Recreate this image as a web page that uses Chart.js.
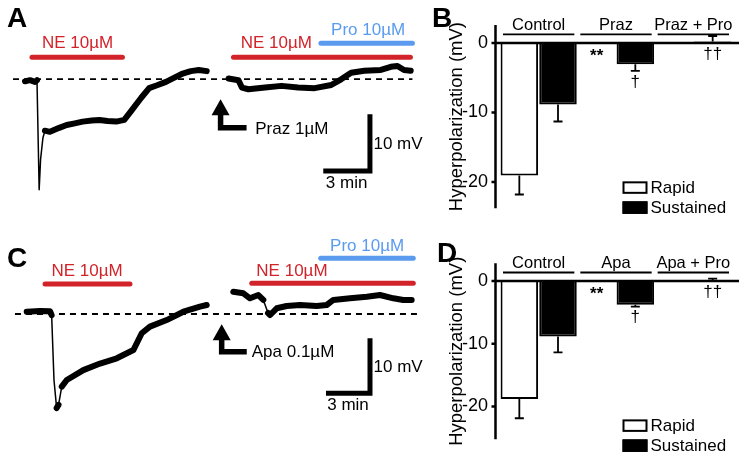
<!DOCTYPE html>
<html>
<head>
<meta charset="utf-8">
<script src="https://cdn.jsdelivr.net/npm/chart.js@4/dist/chart.umd.min.js"></script>
<style>
  html, body { margin: 0; padding: 0; background: #fff; }
  #fig { position: relative; width: 747px; height: 462px; overflow: hidden; }
  canvas { position: absolute; }
</style>
</head>
<body>
<div id="fig">
  <canvas id="chartA" width="430" height="230" style="left:0;top:0"></canvas>
  <canvas id="chartC" width="430" height="232" style="left:0;top:230px"></canvas>
  <canvas id="chartB" width="317" height="231" style="left:430px;top:0"></canvas>
  <canvas id="chartD" width="317" height="231" style="left:430px;top:231px"></canvas>
</div>
<script>
// traces: time in min, membrane potential change in mV
const aTime1 = [0, 0.32, 0.64, 0.77, 0.91, 1.0, 1.15, 1.28, 1.6, 2.2, 2.68, 3.2, 3.7, 4.3, 4.79, 5.3, 5.87, 6.38, 6.89, 7.47, 7.98, 8.49, 9.06, 9.57, 10.08, 10.66, 11.17, 11.68];
const aVolt1 = [-0.4, -0.2, -0.5, -0.2, -19.5, -14.2, -10.4, -9.1, -9.3, -8.6, -8.1, -7.8, -7.5, -7.3, -7.2, -7.4, -7.5, -7.2, -5.4, -3.3, -1.6, -1.1, -0.5, 0.2, 0.9, 1.4, 1.6, 1.4];
const aTime2 = [13.08, 13.72, 13.94, 14.36, 15.43, 16.49, 17.55, 18.62, 19.68, 20.32, 20.96, 21.81, 22.87, 23.51, 23.94, 24.36, 24.79];
const aVolt2 = [0.1, -0.2, -1.5, -1.8, -1.5, -1.2, -1.5, -1.6, -1.05, -0.05, 1.1, 1.45, 1.6, 2.15, 2.3, 1.6, 1.45];

const cTime1 = [0, 0.91, 1.59, 1.7, 1.86, 2.04, 2.17, 2.39, 2.73, 3.86, 5.0, 6.14, 7.27, 7.84, 8.4, 9.54, 10.68, 11.81, 12.27];
const cVolt1 = [0.42, 0.55, 0.5, -0.2, -12, -17.1, -16.5, -13.2, -12, -10.2, -9.0, -8.05, -6.55, -3.5, -2.3, -1.1, 0.42, 1.33, 1.64];
const cTime2 = [14.08, 14.77, 15.22, 15.79, 16.13, 16.45, 16.59, 17.04, 17.72, 18.63, 19.77, 20.45, 20.9, 22.04, 23.18, 24.08, 24.99, 25.67, 26.24];
const cVolt2 = [4.05, 3.76, 2.85, 3.45, 2.55, 0.18, -0.18, 1.04, 1.45, 1.64, 1.45, 1.64, 2.55, 2.85, 3.15, 3.45, 2.85, 2.55, 2.55];

// drug application windows (min)
const aNE = [[0.45, 6.26], [13.4, 24.77]];
const aPro = [19.02, 24.9];
const cNE = [[1.25, 7.04], [15.34, 26.35]];
const cPro = [20.04, 26.35];

// bar charts
const bGroups = ['Control', 'Praz', 'Praz + Pro'];
const bRapid = [-19.05, 0, 0];
const bRapidErr = [2.75, 0, 0];
const bSust = [-8.85, -3.06, 0.2];
const bSustErr = [2.45, 0.95, 0.8];

const dGroups = ['Control', 'Apa', 'Apa + Pro'];
const dRapid = [-18.83, 0, 0];
const dRapidErr = [3.05, 0, 0];
const dSust = [-8.85, -3.77, 0.1];
const dSustErr = [2.54, 0.32, 0.27];

const yTicks = [0, -10, -20];

const RED = '#d2232a';
const BLUE = '#5a9bf0';
const FONT = "'Liberation Sans', Arial, Helvetica, sans-serif";
Chart.defaults.font.family = FONT;
Chart.defaults.color = '#000';

const pts = (ts, vs) => ts.map((t, i) => ({ x: t, y: vs[i] }));

function makeTraceDecor(p) {
  return {
    id: 'traceDecor',
    beforeDatasetsDraw(chart) {
      const { ctx, scales: { x, y } } = chart;
      ctx.save();
      ctx.strokeStyle = '#000';
      ctx.lineWidth = 1.8;
      ctx.setLineDash([6, 5]);
      ctx.beginPath();
      ctx.moveTo(x.getPixelForValue(p.baseline[0]), y.getPixelForValue(0));
      ctx.lineTo(x.getPixelForValue(p.baseline[1]), y.getPixelForValue(0));
      ctx.stroke();
      ctx.restore();
    },
    afterDatasetsDraw(chart) {
      const { ctx, scales: { x, y } } = chart;
      ctx.save();
      // drug bars
      p.drugs.forEach(d => {
        ctx.strokeStyle = d.color;
        ctx.lineWidth = 5;
        ctx.lineCap = 'round';
        ctx.beginPath();
        ctx.moveTo(x.getPixelForValue(d.span[0]), y.getPixelForValue(d.v));
        ctx.lineTo(x.getPixelForValue(d.span[1]), y.getPixelForValue(d.v));
        ctx.stroke();
        ctx.fillStyle = d.color;
        ctx.font = '17px ' + FONT;
        ctx.textAlign = 'center';
        ctx.textBaseline = 'middle';
        ctx.fillText(d.label, x.getPixelForValue(d.labelT), y.getPixelForValue(d.labelV));
      });

      // arrow (drug pre-treatment)
      const a = p.arrow;
      const ax = x.getPixelForValue(a.t), tipY = y.getPixelForValue(a.tipV);
      const cy = y.getPixelForValue(a.cornerV), ex = x.getPixelForValue(a.endT);
      ctx.strokeStyle = '#000';
      ctx.fillStyle = '#000';
      ctx.lineCap = 'butt';
      ctx.lineJoin = 'miter';
      ctx.lineWidth = 5.5;
      ctx.beginPath();
      ctx.moveTo(ax, tipY + 12);
      ctx.lineTo(ax, cy);
      ctx.lineTo(ex, cy);
      ctx.stroke();
      ctx.beginPath();
      ctx.moveTo(ax, tipY);
      ctx.lineTo(ax - 9, tipY + 16);
      ctx.lineTo(ax + 9, tipY + 16);
      ctx.closePath();
      ctx.fill();
      ctx.font = '17px ' + FONT;
      ctx.textAlign = 'left';
      ctx.textBaseline = 'middle';
      ctx.fillText(a.label, x.getPixelForValue(a.labelT), cy + 1);

      // scale bar: 10 mV x 3 min
      const sx = x.getPixelForValue(p.scaleBar.t), sy = y.getPixelForValue(p.scaleBar.v);
      const topY = y.getPixelForValue(p.scaleBar.v + 10), leftX = x.getPixelForValue(p.scaleBar.t - 3);
      ctx.lineWidth = 5;
      ctx.beginPath();
      ctx.moveTo(sx, topY);
      ctx.lineTo(sx, sy);
      ctx.lineTo(leftX, sy);
      ctx.stroke();
      ctx.fillText('10 mV', sx + 3.5, (topY + sy) / 2 + 2);
      ctx.textAlign = 'center';
      ctx.fillText('3 min', (sx + leftX) / 2, sy + 12);

      // panel letter
      ctx.font = 'bold 28px ' + FONT;
      ctx.textAlign = 'left';
      ctx.textBaseline = 'alphabetic';
      ctx.fillText(p.letter, p.letterPos[0], p.letterPos[1]);
      ctx.restore();
    }
  };
}

function makeTraceChart(id, p) {
  return new Chart(document.getElementById(id), {
    type: 'line',
    data: {
      datasets: p.traces.map(tr => ({
        data: pts(tr[0], tr[1]),
        borderColor: '#000',
        borderWidth: 6,
        borderJoinStyle: 'round',
        borderCapStyle: 'round',
        pointRadius: 0,
        tension: 0,
        segment: {
          // the fast transients are a thin line, the noisy plateau a thick band
          borderWidth: c => Math.abs(c.p1.y - c.p0.y) > 2.5 * Math.abs(c.p1.x - c.p0.x) ? 1.5 : 6
        }
      }))
    },
    options: {
      responsive: false,
      animation: false,
      layout: { padding: 0 },
      plugins: { legend: { display: false }, tooltip: { enabled: false } },
      scales: {
        x: { type: 'linear', display: false, min: p.xRange[0], max: p.xRange[1] },
        y: { type: 'linear', display: false, min: p.yRange[0], max: p.yRange[1] }
      }
    },
    plugins: [makeTraceDecor(p)]
  });
}

makeTraceChart('chartA', {
  letter: 'A', letterPos: [7, 27],
  xRange: [-1.607, 26.03], yRange: [-26.6, 13.93],
  baseline: [-0.77, 24.9],
  traces: [[aTime1, aVolt1], [aTime2, aVolt2]],
  drugs: [
    { span: aNE[0], v: 3.86, label: 'NE 10µM', labelT: 3.38, labelV: 6.32, color: RED },
    { span: aNE[1], v: 3.86, label: 'NE 10µM', labelT: 16.15, labelV: 6.32, color: RED },
    { span: aPro, v: 6.32, label: 'Pro 10µM', labelT: 22.05, labelV: 8.6, color: BLUE }
  ],
  arrow: { t: 12.57, tipV: -3.56, cornerV: -8.6, endT: 14.24, label: 'Praz 1µM', labelT: 14.8 },
  scaleBar: { t: 22.17, v: -16.2 }
});

makeTraceChart('chartC', {
  letter: 'C', letterPos: [7, 37],
  xRange: [-1.82, 27.49], yRange: [-26.9, 15.27],
  baseline: [-0.8, 26.6],
  traces: [[cTime1, cVolt1], [cTime2, cVolt2]],
  drugs: [
    { span: cNE[0], v: 5.45, label: 'NE 10µM', labelT: 4.11, labelV: 7.69, color: RED },
    { span: cNE[1], v: 5.58, label: 'NE 10µM', labelT: 18.08, labelV: 7.69, color: RED },
    { span: cPro, v: 10.13, label: 'Pro 10µM', labelT: 23.2, labelV: 12.36, color: BLUE }
  ],
  arrow: { t: 13.29, tipV: -1.87, cornerV: -6.85, endT: 15.0, label: 'Apa 0.1µM', labelT: 15.34 },
  scaleBar: { t: 23.4, v: -14.4 }
});

function makeBarDecor(p) {
  return {
    id: 'barDecor',
    afterDatasetsDraw(chart) {
      const { ctx, chartArea, scales: { x, y } } = chart;
      const zeroY = y.getPixelForValue(0);
      const axisX = chartArea.left - 4.5;
      ctx.save();
      ctx.strokeStyle = '#000';
      ctx.fillStyle = '#000';

      // error bars
      chart.data.datasets.forEach((ds, di) => {
        const meta = chart.getDatasetMeta(di);
        ds.errors.forEach((e, i) => {
          if (!e) return;
          const v = ds.data[i];
          const end = v < 0 ? v - e : v + e;
          const bx = meta.data[i].x;
          const y0 = y.getPixelForValue(v), y1 = y.getPixelForValue(end);
          ctx.lineWidth = 1.8;
          ctx.beginPath();
          ctx.moveTo(bx, y0);
          ctx.lineTo(bx, y1);
          ctx.moveTo(bx - 4.5, y1);
          ctx.lineTo(bx + 4.5, y1);
          ctx.stroke();
        });
      });

      // y axis, tick marks, zero line
      ctx.lineWidth = 2.5;
      ctx.beginPath();
      ctx.moveTo(axisX, chartArea.top);
      ctx.lineTo(axisX, chartArea.bottom);
      y.ticks.forEach(t => {
        const ty = y.getPixelForValue(t.value);
        ctx.moveTo(axisX - 4, ty);
        ctx.lineTo(axisX, ty);
      });
      ctx.moveTo(axisX, zeroY);
      ctx.lineTo(chartArea.right + 7, zeroY);
      ctx.stroke();

      // group headers
      const half = (x.getPixelForValue(1) - x.getPixelForValue(0)) / 2;
      ctx.font = '16.5px ' + FONT;
      ctx.textAlign = 'center';
      ctx.textBaseline = 'alphabetic';
      ctx.lineWidth = 1.8;
      chart.data.labels.forEach((lab, i) => {
        const cx = x.getPixelForValue(i);
        ctx.beginPath();
        ctx.moveTo(cx - half + 3, zeroY - 8.5);
        ctx.lineTo(cx + half - 3, zeroY - 8.5);
        ctx.stroke();
        ctx.fillText(lab, cx, zeroY - 12.5);
      });

      // significance marks
      const rMeta = chart.getDatasetMeta(0), sMeta = chart.getDatasetMeta(1);
      const sDs = chart.data.datasets[1];
      ctx.textBaseline = 'middle';
      ctx.font = 'bold 17px ' + FONT;
      ctx.fillText('**', rMeta.data[1].x, zeroY + 13);
      ctx.font = '17px ' + FONT;
      const errEnd = y.getPixelForValue(sDs.data[1] - sDs.errors[1]);
      ctx.fillText('†', sMeta.data[1].x, errEnd + 11);
      ctx.fillText('††', sMeta.data[2].x, zeroY + 11);

      // legend
      const lx = chartArea.left + 122.5;
      chart.data.datasets.forEach((ds, i) => {
        const top = zeroY + 138.4 + i * 20;
        ctx.fillStyle = ds.backgroundColor;
        ctx.fillRect(lx, top, 25, 12.5);
        ctx.lineWidth = 2;
        ctx.strokeRect(lx + 1, top + 1, 23, 10.5);
        ctx.fillStyle = '#000';
        ctx.textAlign = 'left';
        ctx.font = '17px ' + FONT;
        ctx.fillText(ds.label, lx + 28, top + 6.8);
      });

      // panel letter
      ctx.font = 'bold 28px ' + FONT;
      ctx.textBaseline = 'alphabetic';
      ctx.fillText(p.letter, p.letterPos[0], p.letterPos[1]);
      ctx.restore();
    }
  };
}

function makeBarChart(id, p) {
  return new Chart(document.getElementById(id), {
    type: 'bar',
    data: {
      labels: p.groups,
      datasets: [
        { label: 'Rapid', data: p.rapid, errors: p.rapidErr, backgroundColor: '#fff', borderColor: '#000', borderWidth: 2 },
        { label: 'Sustained', data: p.sust, errors: p.sustErr, backgroundColor: '#000', borderColor: '#000', borderWidth: 2 }
      ]
    },
    options: {
      responsive: false,
      animation: false,
      layout: { padding: { top: p.padTop, right: 15, bottom: p.padBottom, left: 0 } },
      datasets: { bar: { categoryPercentage: 1, barPercentage: 0.97 } },
      plugins: { legend: { display: false }, tooltip: { enabled: false } },
      scales: {
        x: { display: false },
        y: {
          min: p.yRange[0], max: p.yRange[1],
          afterFit: s => { s.width = 70; },
          afterBuildTicks: s => { s.ticks = yTicks.map(v => ({ value: v })); },
          border: { display: false },
          grid: { drawOnChartArea: false, drawTicks: false },
          ticks: { color: '#000', font: { size: 18 }, padding: 12 },
          title: {
            display: true, text: 'Hyperpolarization (mV)', color: '#000',
            font: { size: 18.5 }, padding: { top: 16, bottom: 0 }
          }
        }
      }
    },
    plugins: [makeBarDecor(p)]
  });
}

makeBarChart('chartB', {
  letter: 'B', letterPos: [2, 27],
  groups: bGroups, rapid: bRapid, rapidErr: bRapidErr, sust: bSust, sustErr: bSustErr,
  yRange: [-23.77, 2.58], padTop: 25, padBottom: 19.3
});

makeBarChart('chartD', {
  letter: 'D', letterPos: [7, 30.7],
  groups: dGroups, rapid: dRapid, rapidErr: dRapidErr, sust: dSust, sustErr: dSustErr,
  yRange: [-25.22, 2.82], padTop: 32.3, padBottom: 0
});
</script>
</body>
</html>
